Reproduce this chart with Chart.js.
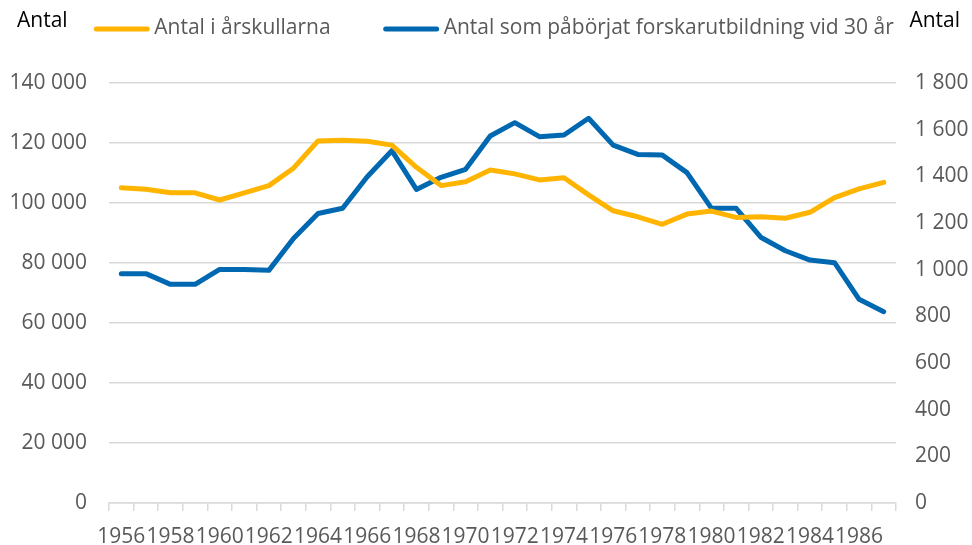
<!DOCTYPE html>
<html>
<head>
<meta charset="utf-8">
<script src="https://cdn.jsdelivr.net/npm/chart.js@4"></script>
<style>
  html, body { margin: 0; padding: 0; background: #fff; }
  #wrap { width: 972px; height: 545px; }
</style>
</head>
<body>
<div id="wrap"><canvas id="chart" width="972" height="545"></canvas></div>
<script>
const years = ["1956","1957","1958","1959","1960","1961","1962","1963","1964","1965","1966","1967","1968","1969","1970","1971",
               "1972","1973","1974","1975","1976","1977","1978","1979","1980","1981","1982","1983","1984","1985","1986","1987"];

// Antal i årskullarna (vänster axel)
const arskullar = [105100,104600,103400,103400,101000,103400,105800,111600,120700,120900,120600,119300,111900,105800,107100,111000,
                   109700,107700,108400,102700,97400,95400,92900,96300,97300,95200,95400,94900,96900,101800,104700,106900];

// Antal som påbörjat forskarutbildning vid 30 år (höger axel)
const forskare = [983,983,937,937,1001,1001,997,1134,1241,1263,1398,1510,1344,1396,1430,1573,
                  1630,1570,1577,1649,1534,1494,1491,1416,1263,1263,1139,1081,1041,1030,873,820];

const seriesNames = ["Antal i årskullarna", "Antal som påbörjat forskarutbildning vid 30 år"];
const axisTitle = "Antal";

const FONT = "'Open Sans', sans-serif";
const GREY = "#595959";
const GRID = "#d9d9d9";

// tusentalsavgränsare med mellanslag
function fmt(v) {
  return String(v).replace(/\B(?=(\d{3})+(?!\d))/g, " ");
}

// "Antal" ovanför y-axlarna + legend på samma rad (som i Excel)
const topRow = {
  id: "topRow",
  afterDraw(chart) {
    const ctx = chart.ctx;
    ctx.save();
    ctx.font = "21px " + FONT;
    ctx.textBaseline = "middle";

    ctx.fillStyle = "#000";
    ctx.textAlign = "left";
    ctx.fillText(axisTitle, chart.scales.y.left + 17, 21);
    ctx.textAlign = "right";
    ctx.fillText(axisTitle, chart.scales.y1.right - 12, 21);

    // legend
    const lineLen = 51, gapText = 7, gapItems = 55;
    const sets = chart.data.datasets;
    const widths = sets.map(d => ctx.measureText(d.label).width);
    let total = gapItems * (sets.length - 1);
    widths.forEach(w => { total += lineLen + gapText + w; });
    let x = (chart.width - total) / 2 + 9;
    const y = 28;
    ctx.textAlign = "left";
    sets.forEach((d, i) => {
      ctx.strokeStyle = d.borderColor;
      ctx.lineWidth = 5;
      ctx.lineCap = "round";
      ctx.beginPath();
      ctx.moveTo(x, y + 1);
      ctx.lineTo(x + lineLen, y + 1);
      ctx.stroke();
      ctx.fillStyle = GREY;
      ctx.fillText(d.label, x + lineLen + gapText, y);
      x += lineLen + gapText + widths[i] + gapItems;
    });
    ctx.restore();
  }
};

const ctx = document.getElementById("chart").getContext("2d");
new Chart(ctx, {
  type: "line",
  data: {
    labels: years,
    datasets: [
      {
        label: seriesNames[0],
        data: arskullar,
        yAxisID: "y",
        borderColor: "#FFB400",
        backgroundColor: "#FFB400",
        borderWidth: 5,
        borderCapStyle: "round",
        borderJoinStyle: "round",
        pointRadius: 0,
        tension: 0
      },
      {
        label: seriesNames[1],
        data: forskare,
        yAxisID: "y1",
        borderColor: "#0068B1",
        backgroundColor: "#0068B1",
        borderWidth: 5,
        borderCapStyle: "round",
        borderJoinStyle: "round",
        pointRadius: 0,
        tension: 0
      }
    ]
  },
  options: {
    responsive: false,
    animation: false,
    layout: { padding: { top: 83, left: 0, right: 0, bottom: 0 } },
    plugins: {
      legend: { display: false },
      tooltip: { enabled: false }
    },
    scales: {
      x: {
        offset: true,
        grid: { offset: true, drawOnChartArea: false, tickLength: 8, color: GRID, lineWidth: 1.5 },
        border: { color: GRID, width: 1.5 },
        ticks: {
          autoSkip: false, maxRotation: 0, minRotation: 0, padding: 13,
          color: GREY, font: { size: 21, family: FONT },
          callback: (v, i) => (i % 2 === 0 ? years[i] : "")
        },
        afterFit: s => { s.height = 42; }
      },
      y: {
        position: "left",
        min: 0, max: 140000,
        grid: { color: GRID, lineWidth: 1.5, drawTicks: false },
        border: { display: false },
        ticks: { stepSize: 20000, padding: 22, color: GREY, font: { size: 21, family: FONT }, callback: v => fmt(v) },
        afterFit: s => { s.width = 109; }
      },
      y1: {
        position: "right",
        min: 0, max: 1800,
        grid: { drawOnChartArea: false, drawTicks: false },
        border: { display: false },
        ticks: { stepSize: 200, padding: 19, color: GREY, font: { size: 21, family: FONT }, callback: v => fmt(v) },
        afterFit: s => { s.width = 76; }
      }
    }
  },
  plugins: [topRow]
});
</script>
</body>
</html>
